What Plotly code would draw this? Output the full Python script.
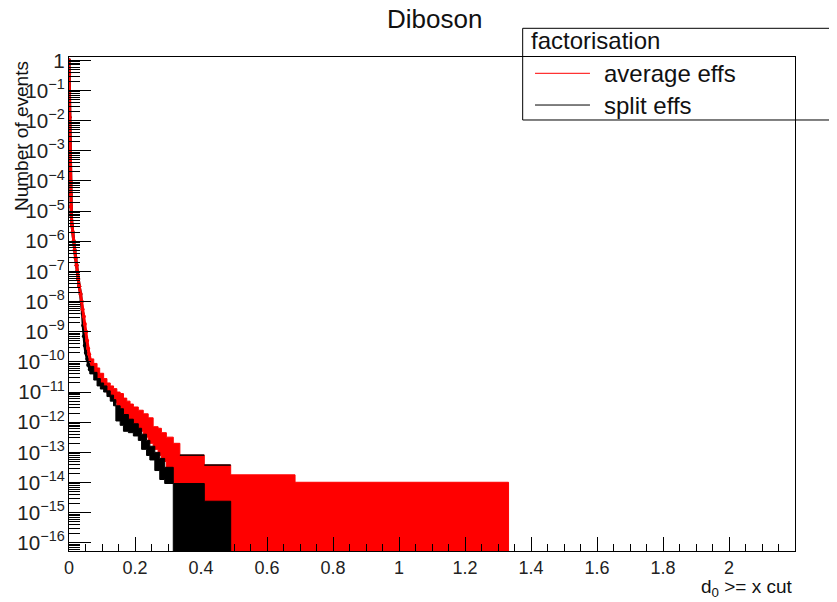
import plotly.graph_objects as go

# ---------------- data ----------------
# steep part of the cumulative curves: bin position, central value
red_x = [0.000, 0.0005, 0.001, 0.0015, 0.002, 0.003, 0.004, 0.005, 0.006, 0.007,
         0.009, 0.011, 0.014, 0.017, 0.020, 0.023, 0.025, 0.028, 0.031, 0.035,
         0.038, 0.041, 0.045, 0.048, 0.052, 0.055, 0.058, 0.061, 0.065]
red_y = [1.0, 3.5e-1, 8.1e-2, 1.3e-2, 2.0e-3, 4.0e-4, 9.5e-5, 3.5e-5, 1.4e-5, 7.4e-6,
         3.5e-6, 2.0e-6, 1.0e-6, 5.0e-7, 2.8e-7, 1.6e-7, 1.0e-7, 5.6e-8, 3.2e-8, 1.8e-8,
         1.0e-8, 5.6e-9, 3.2e-9, 1.8e-9, 1.0e-9, 5.0e-10, 2.8e-10, 1.8e-10, 1.1e-10]

black_x = [0.000, 0.0005, 0.001, 0.0015, 0.002, 0.003, 0.004, 0.005, 0.006, 0.007,
           0.009, 0.011, 0.014, 0.017, 0.020, 0.023, 0.025, 0.028, 0.031, 0.035,
           0.038, 0.041, 0.043, 0.045, 0.048, 0.051, 0.055, 0.058, 0.063]
black_y = [1.0, 3.5e-1, 8.1e-2, 1.3e-2, 2.0e-3, 4.0e-4, 9.5e-5, 3.5e-5, 1.4e-5, 7.4e-6,
           3.5e-6, 2.0e-6, 1.0e-6, 5.0e-7, 2.8e-7, 1.6e-7, 1.0e-7, 5.6e-8, 3.2e-8, 1.8e-8,
           1.0e-8, 4.0e-9, 1.6e-9, 7.1e-10, 3.5e-10, 2.0e-10, 1.26e-10, 7.9e-11, 5.6e-11]

# flatter part: bin edges with upper / lower end of the error bars (0 = down to zero)
red_band_x = [0.065, 0.075, 0.085, 0.093, 0.105, 0.115, 0.125, 0.135, 0.145, 0.155,
              0.165, 0.175, 0.185, 0.195, 0.210, 0.225, 0.240, 0.255, 0.270, 0.280,
              0.295, 0.316, 0.336, 0.410, 0.490, 0.685, 1.332]
red_band_hi = [1.26e-10, 8.9e-11, 6.3e-11, 4.2e-11, 2.8e-11, 2.0e-11, 1.6e-11, 1.3e-11, 1.0e-11, 8.9e-12,
               6.3e-12, 5.0e-12, 4.0e-12, 3.2e-12, 2.5e-12, 1.9e-12, 1.4e-12, 7.1e-13, 6.3e-13, 4.5e-13,
               3.2e-13, 2.0e-13, 8.1e-14, 3.8e-14, 1.8e-14, 1.02e-14]
red_band_lo = [7.1e-11, 4.0e-11, 2.5e-11, 1.8e-11, 1.26e-11, 8.9e-12, 6.3e-12, 4.5e-12, 2.5e-12, 2.0e-12,
               1.4e-12, 1.1e-12, 8.9e-13, 7.1e-13, 5.0e-13, 3.2e-13, 2.0e-13, 1.26e-13, 7.9e-14, 5.0e-14,
               2.5e-14, 1.0e-14, 0, 0, 0, 0]

black_band_x = [0.063, 0.075, 0.085, 0.095, 0.105, 0.115, 0.125, 0.135, 0.142, 0.155,
                0.165, 0.180, 0.195, 0.210, 0.220, 0.235, 0.245, 0.260, 0.275, 0.290,
                0.316, 0.410, 0.490]
black_band_hi = [7.1e-11, 4.5e-11, 2.8e-11, 2.0e-11, 1.6e-11, 1.1e-11, 7.9e-12, 5.6e-12, 3.5e-12, 2.8e-12,
                 1.8e-12, 1.26e-12, 8.9e-13, 6.3e-13, 4.0e-13, 2.5e-13, 1.6e-13, 1.0e-13, 6.3e-14, 3.2e-14,
                 9.3e-15, 2.4e-15]
black_band_lo = [4.0e-11, 2.5e-11, 1.6e-11, 1.26e-11, 1.0e-11, 7.1e-12, 5.0e-12, 3.5e-12, 1.1e-12, 7.9e-13,
                 5.0e-13, 4.5e-13, 3.5e-13, 2.5e-13, 1.26e-13, 7.9e-14, 5.6e-14, 2.5e-14, 1.26e-14, 9.3e-15,
                 0, 0]

# thin black bin lines seen on top of the red steps
black_cap_x = [0.336, 0.410, 0.490]
black_cap_y = [8.1e-14, 3.8e-14]

x_ticks = [0, 0.2, 0.4, 0.6, 0.8, 1.0, 1.2, 1.4, 1.6, 1.8, 2.0]
x_tick_text = ["0", "0.2", "0.4", "0.6", "0.8", "1", "1.2", "1.4", "1.6", "1.8", "2"]

X_RANGE = [0, 2.2]
Y_RANGE_LOG = [-16.27, 0.11]
FLOOR = 10 ** (Y_RANGE_LOG[0] - 2)

RED = "#ff0000"
BLACK = "#000000"
FONT = "Liberation Sans, Arial, Helvetica, sans-serif"


def band_polygon(edges, hi, lo):
    xs, ys = [], []
    for i in range(len(hi)):
        xs += [edges[i], edges[i + 1]]
        ys += [hi[i], hi[i]]
    for i in reversed(range(len(lo))):
        v = lo[i] if lo[i] > 0 else FLOOR
        xs += [edges[i + 1], edges[i]]
        ys += [v, v]
    xs.append(xs[0])
    ys.append(ys[0])
    return xs, ys


fig = go.Figure()


def add_band(col, bx, bhi, blo):
    px_, py_ = band_polygon(bx, bhi, blo)
    fig.add_trace(go.Scatter(x=px_, y=py_, mode="lines", fill="toself",
                             fillcolor=col, line=dict(color=col, width=1),
                             showlegend=False, hoverinfo="skip"))


def add_curve(col, cx, cy):
    fig.add_trace(go.Scatter(x=cx, y=cy, mode="lines+markers",
                             line=dict(color=col, width=3),
                             marker=dict(color=col, size=4),
                             showlegend=False, hoverinfo="skip"))


add_band(RED, red_band_x, red_band_hi, red_band_lo)
add_band(BLACK, black_band_x, black_band_hi, black_band_lo)
add_curve(BLACK, black_x, black_y)
add_curve(RED, red_x, red_y)

# thin black step lines over the red steps
cap_xs, cap_ys = [], []
for i, v in enumerate(black_cap_y):
    cap_xs += [black_cap_x[i], black_cap_x[i + 1], None]
    cap_ys += [v, v, None]
fig.add_trace(go.Scatter(x=cap_xs, y=cap_ys, mode="lines",
                         line=dict(color=BLACK, width=1.5),
                         showlegend=False, hoverinfo="skip"))

# the page adds an 8 px body margin, so the plot frame (69..795 x 57..551 in the
# window) is placed with margins measured from that offset
fig.update_layout(
    width=837, height=602,
    margin=dict(l=61, r=50, t=49, b=59, autoexpand=False),
    paper_bgcolor="white", plot_bgcolor="white",
    font=dict(family=FONT, color="black", size=18),
    showlegend=False,
)

fig.update_xaxes(
    range=X_RANGE, showgrid=False, zeroline=False, automargin=False,
    showline=True, linecolor="black", linewidth=1, mirror=True,
    tickvals=x_ticks, ticktext=x_tick_text,
    ticks="inside", ticklen=14, tickcolor="black", tickwidth=1,
    minor=dict(ticks="inside", ticklen=7, dtick=0.05, tick0=0, tickcolor="black", showgrid=False),
    tickfont=dict(size=18, family=FONT, color="#222"),
)
fig.update_yaxes(
    type="log", range=Y_RANGE_LOG, showgrid=False, zeroline=False, automargin=False,
    showline=True, linecolor="black", linewidth=1, mirror=True,
    dtick=1, exponentformat="power",
    ticks="inside", ticklen=22, tickcolor="black", tickwidth=1,
    minor=dict(ticks="inside", ticklen=11, dtick="D1", tickcolor="black", showgrid=False),
    tickfont=dict(size=16.5, family=FONT, color="#222"),
)

# title
fig.add_annotation(text="Diboson", x=0.5028, y=1.076, xref="paper", yref="paper",
                   xanchor="center", yanchor="middle", showarrow=False,
                   font=dict(size=26, family=FONT, color="#111"))
# axis titles
fig.add_annotation(text="Number of events", x=-0.0647, y=0.996, xref="paper", yref="paper",
                   xanchor="center", yanchor="top", textangle=-90, showarrow=False,
                   font=dict(size=19, family=FONT, color="#111"))
fig.add_annotation(text="d<sub>0</sub> &gt;= x cut", x=1.0, y=-0.075, xref="paper", yref="paper",
                   xanchor="right", yanchor="middle", showarrow=False,
                   font=dict(size=19, family=FONT, color="#111"))

# legend (drawn manually, ROOT style)
fig.add_shape(type="rect", xref="paper", yref="paper", x0=0.6249, x1=1.0551, y0=0.8725, y1=1.0581,
              line=dict(color="black", width=1), fillcolor="rgba(0,0,0,0)")
fig.add_annotation(text="factorisation", x=0.6336, y=1.0344, xref="paper", yref="paper",
                   xanchor="left", yanchor="middle", showarrow=False,
                   font=dict(size=24, family=FONT, color="#111"))
legend_rows = [("average effs", RED, 0.967), ("split effs", BLACK, 0.9028)]
for label, col, yy in legend_rows:
    fig.add_shape(type="line", xref="paper", yref="paper", x0=0.6419, x1=0.7176, y0=yy, y1=yy,
                  line=dict(color=col, width=1))
    fig.add_annotation(text=label, x=0.7337, y=yy, xref="paper", yref="paper",
                       xanchor="left", yanchor="middle", showarrow=False,
                       font=dict(size=24, family=FONT, color="#111"))

fig.write_html("out.html")
